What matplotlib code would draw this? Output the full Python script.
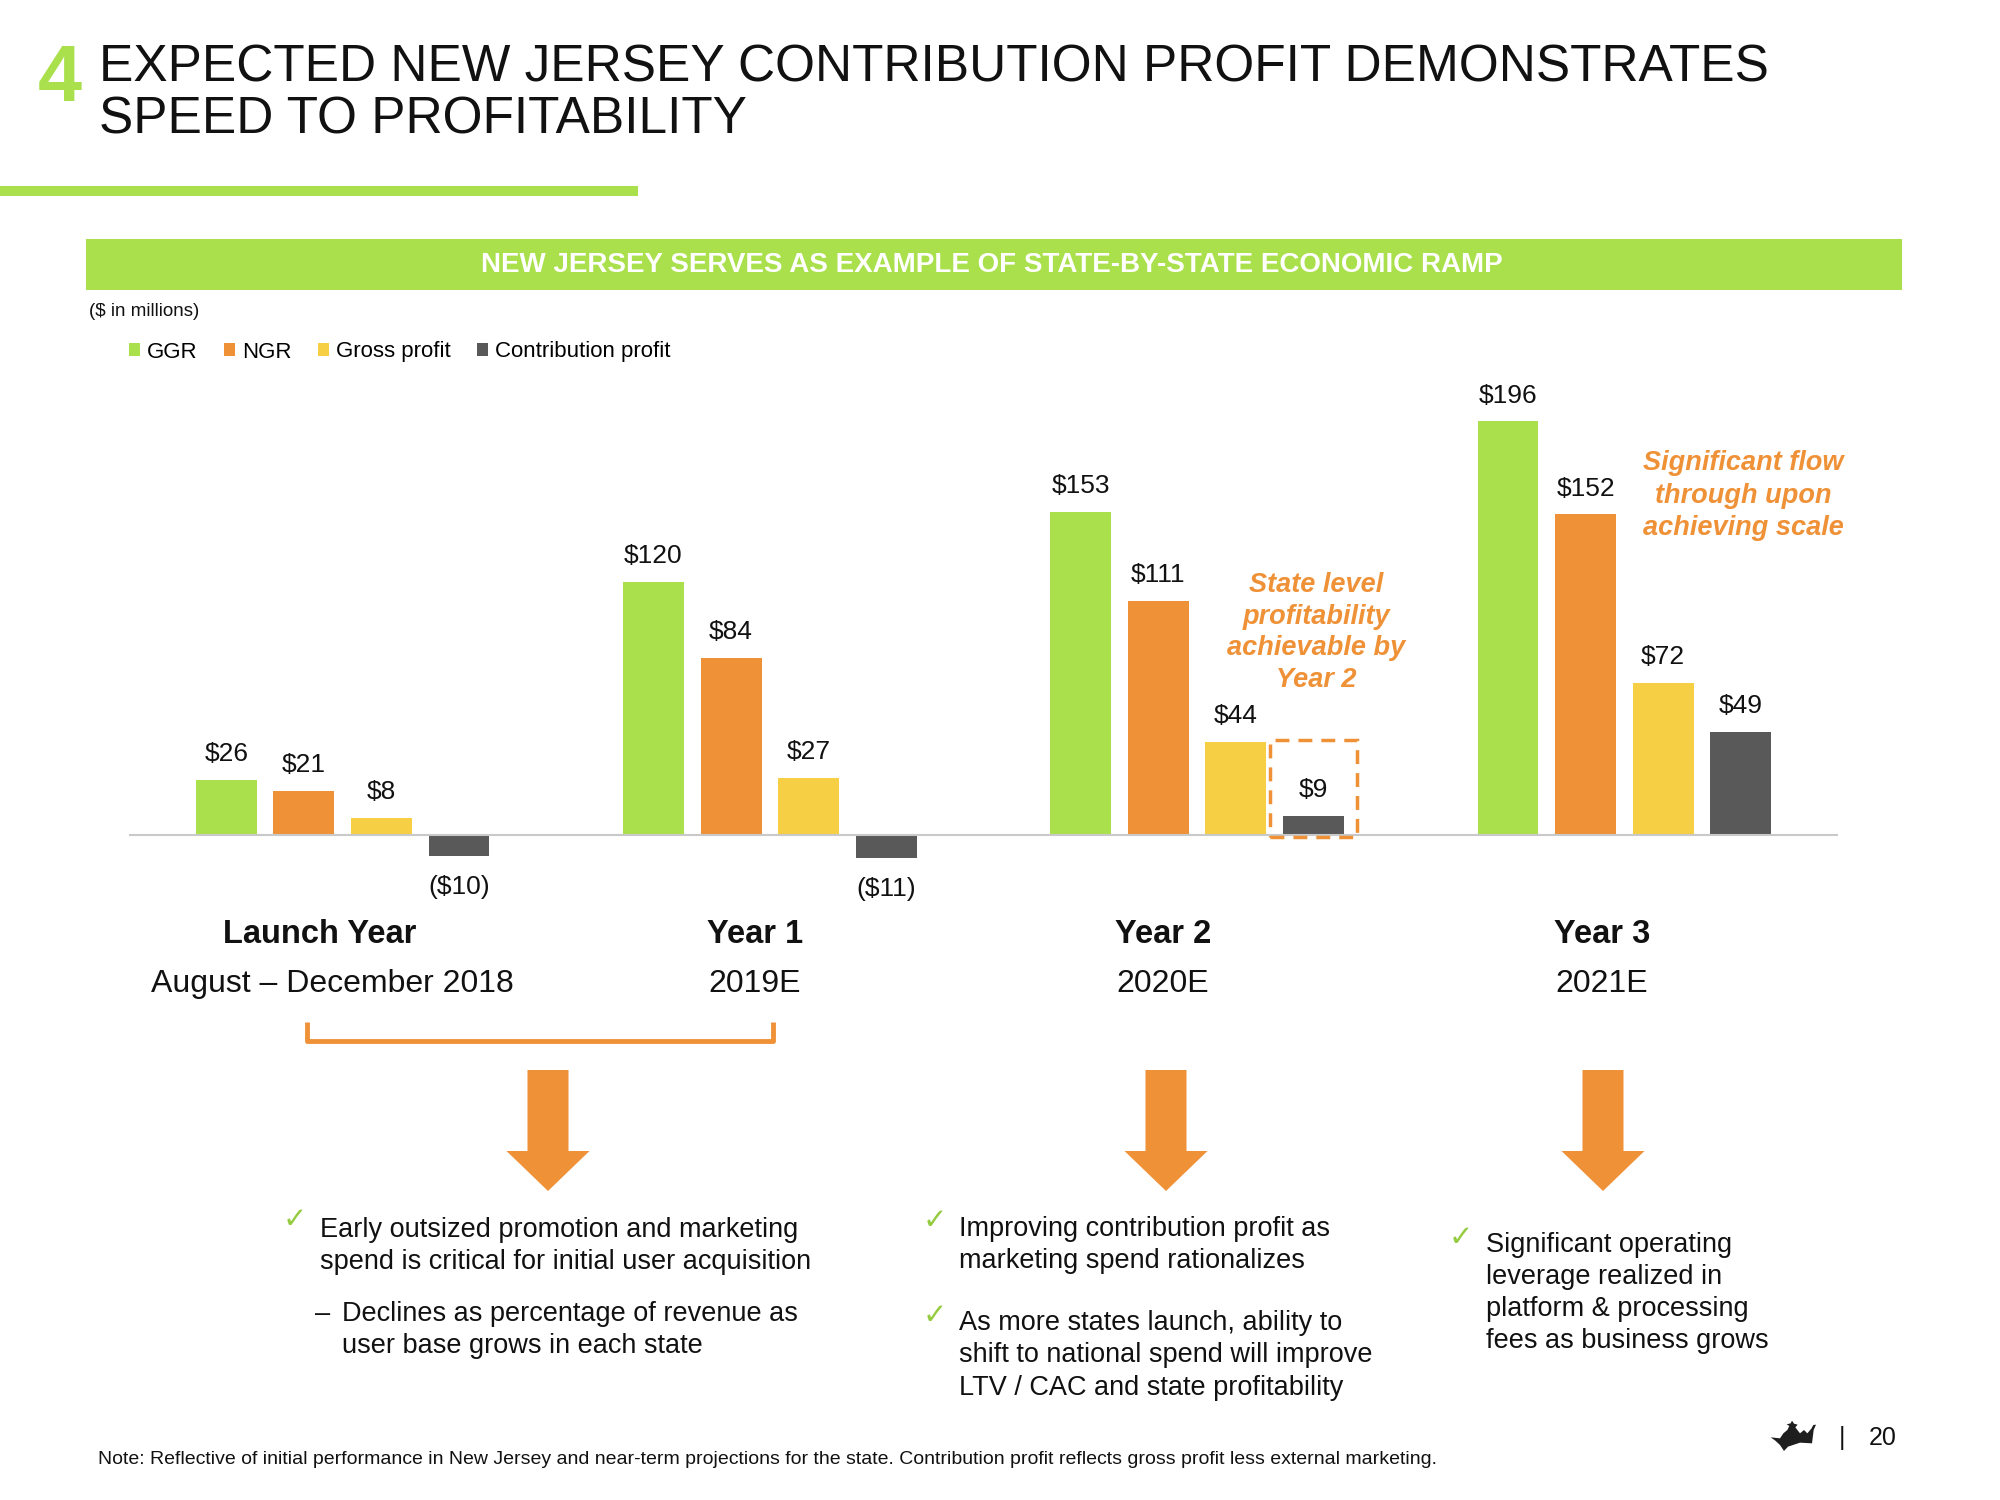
import numpy as np
import matplotlib
matplotlib.use("Agg")
import matplotlib.pyplot as plt
from matplotlib import font_manager
from matplotlib.patches import Rectangle, Polygon

plt.rcParams['font.family'] = ['Liberation Sans', 'DejaVu Sans']
names = {f.name for f in font_manager.fontManager.ttflist}
narrow = 'Liberation Sans Narrow' if 'Liberation Sans Narrow' in names else 'Liberation Sans'

# data ($ in millions)
series = ["GGR", "NGR", "Gross profit", "Contribution profit"]
ggr = [26, 120, 153, 196]
ngr = [21, 84, 111, 152]
gross_profit = [8, 27, 44, 72]
contribution = [-10, -11, 9, 49]
periods = ["Launch Year", "Year 1", "Year 2", "Year 3"]
period_dates = ["August \u2013 December 2018", "2019E", "2020E", "2021E"]

GREEN = "#A9E04B"
ORANGE = "#EF9137"
YELLOW = "#F6CF45"
GREY = "#595959"
CHECK = "#95CB3F"
TXT = "#111111"

fig = plt.figure(figsize=(20, 15), dpi=100)

# slide layer in pixel coordinates
bg = fig.add_axes([0, 0, 1, 1])
bg.set_xlim(0, 2000)
bg.set_ylim(1500, 0)
bg.axis("off")

bg.text(38, 101, "4", fontsize=57, fontweight="bold", color=GREEN, family=narrow, va="baseline")
bg.text(99, 82, "EXPECTED NEW JERSEY CONTRIBUTION PROFIT DEMONSTRATES", fontsize=37, color=TXT, va="baseline")
bg.text(99, 133, "SPEED TO PROFITABILITY", fontsize=37, color=TXT, va="baseline")
bg.add_patch(Rectangle((0, 186), 638, 10, color=GREEN, lw=0))
bg.add_patch(Rectangle((86, 239), 1816, 51, color=GREEN, lw=0))
bg.text(992, 265, "NEW JERSEY SERVES AS EXAMPLE OF STATE-BY-STATE ECONOMIC RAMP",
        fontsize=20, fontweight="bold", color="white", ha="center", va="center")
bg.text(89, 312, "($ in millions)", fontsize=13.5, color=TXT, va="center")

# chart
ax = fig.add_axes([129 / 2000, 1 - 900 / 1500, (1838 - 129) / 2000, (900 - 380) / 1500])
ax.set_facecolor("none")
x = np.arange(len(periods))
step, width = 0.1816, 0.1427
bars = []
for j, (vals, col, lab) in enumerate(zip([ggr, ngr, gross_profit, contribution],
                                         [GREEN, ORANGE, YELLOW, GREY], series)):
    b = ax.bar(x + (j - 1.5) * step, vals, width=width, color=col, label=lab, zorder=2)
    bars.append(b)
    for xi, v in zip(x + (j - 1.5) * step, vals):
        if v >= 0:
            ax.annotate(f"${v}", (xi, v), xytext=(0, 13.5), textcoords="offset points",
                        ha="center", va="baseline", fontsize=19, color=TXT)
        else:
            ax.annotate(f"(${-v})", (xi, v), xytext=(0, -13.5), textcoords="offset points",
                        ha="center", va="top", fontsize=19, color=TXT)
ax.axhline(0, color="#C9C9C9", lw=1.5, zorder=3)
ax.set_xlim(-0.5, 3.5)
ax.set_ylim(-(900 - 835) / 2.11, (835 - 380) / 2.11)
ax.axis("off")

# dashed box around Year 2 contribution profit
cx = x[2] + 1.5 * step
ax.add_patch(Rectangle((cx - 0.1016, -0.8), 0.2032, 45.8, fill=False, edgecolor=ORANGE,
                       lw=2.5, linestyle=(0, (4, 2.6)), clip_on=False, zorder=4))

fig.legend(handles=bars, labels=series, loc="center left", bbox_to_anchor=(129 / 2000, 1 - 352 / 1500),
           ncol=4, frameon=False, fontsize=16, handlelength=0.5, handleheight=0.5,
           handletextpad=0.3, columnspacing=1.2, borderpad=0, borderaxespad=0)

# callouts
for yy, s in zip([585, 617, 648, 680], ["State level", "profitability", "achievable by", "Year 2"]):
    bg.text(1316, yy, s, fontsize=19.5, fontweight="bold", style="italic", color=ORANGE,
            ha="center", va="center")
for yy, s in zip([463, 496, 528], ["Significant flow", "through upon", "achieving scale"]):
    bg.text(1743, yy, s, fontsize=19.5, fontweight="bold", style="italic", color=ORANGE,
            ha="center", va="center")

# period labels
for px, p, d in zip([320, 755, 1163, 1602], periods, period_dates):
    bg.text(px, 943, p, fontsize=23.5, fontweight="bold", color=TXT, ha="center", va="baseline")
    bg.text(px + (12 if p == "Launch Year" else 0), 992, d, fontsize=23, color=TXT,
            ha="center", va="baseline")

# bracket
bg.plot([307, 307, 773, 773], [1022, 1041, 1041, 1022], color=ORANGE, lw=3.5, solid_capstyle="butt")

# arrows
for ax_c in [548, 1166, 1603]:
    bg.add_patch(Polygon([(ax_c - 20.5, 1070), (ax_c + 20.5, 1070), (ax_c + 20.5, 1151),
                          (ax_c + 41.5, 1151), (ax_c, 1191), (ax_c - 41.5, 1151),
                          (ax_c - 20.5, 1151)], closed=True, color=ORANGE, lw=0))

# bullet text
def check(xc, yc):
    bg.text(xc, yc, "\u2713", fontsize=21, color=CHECK, ha="center", va="center",
            family=["DejaVu Sans"])

def lines(x0, ys, texts):
    for yy, s in zip(ys, texts):
        bg.text(x0, yy, s, fontsize=19.5, color=TXT, va="baseline")

check(295, 1220)
lines(320, [1237, 1269], ["Early outsized promotion and marketing",
                          "spend is critical for initial user acquisition"])
bg.text(315, 1321, "\u2013", fontsize=19.5, color=TXT, va="baseline")
lines(342, [1321, 1353], ["Declines as percentage of revenue as", "user base grows in each state"])

check(935, 1221)
lines(959, [1236, 1268], ["Improving contribution profit as", "marketing spend rationalizes"])
check(935, 1316)
lines(959, [1330, 1362, 1395], ["As more states launch, ability to",
                                "shift to national spend will improve",
                                "LTV / CAC and state profitability"])

check(1461, 1238)
lines(1486, [1252, 1284, 1316, 1348], ["Significant operating", "leverage realized in",
                                        "platform & processing", "fees as business grows"])

bg.text(98, 1464, "Note: Reflective of initial performance in New Jersey and near-term projections for the state. "
        "Contribution profit reflects gross profit less external marketing.",
        fontsize=14, color=TXT, va="baseline")

# crown logo + page number
crown = np.array([(212, 172), (240, 175), (250, 160), (262, 150), (268, 138), (260, 133), (272, 130),
                  (276, 122), (282, 131), (293, 134), (286, 142), (300, 160), (312, 150), (322, 160),
                  (334, 146), (340, 135), (348, 134), (341, 150), (336, 190), (300, 188), (264, 200),
                  (252, 213), (240, 195), (226, 182)]) / 3.0 + np.array([1700, 1380])
bg.add_patch(Polygon(crown, closed=True, color="#1E1E1E", lw=0))
bg.text(1842, 1445, "|", fontsize=18, color=TXT, ha="center", va="baseline")
bg.text(1869, 1445, "20", fontsize=18, color=TXT, va="baseline")

fig.savefig("out.png", dpi=100)
